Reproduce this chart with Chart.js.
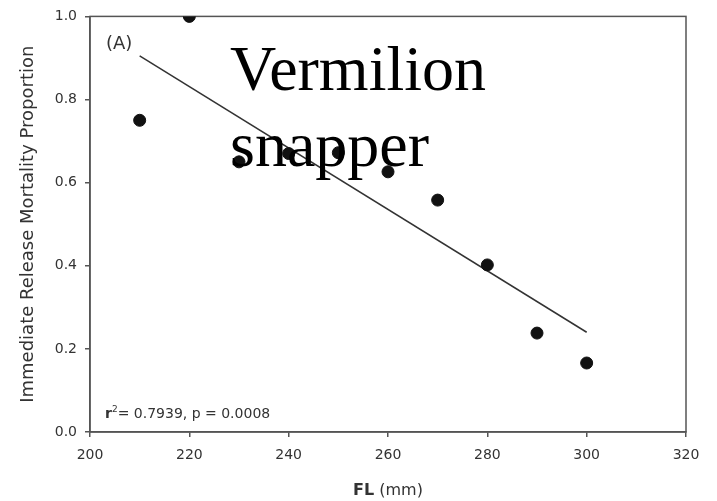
<!DOCTYPE html>
<html>
<head>
<meta charset="utf-8">
<script src="https://cdn.jsdelivr.net/npm/chart.js@4/dist/chart.umd.min.js"></script>
<style>
  html, body { margin: 0; padding: 0; background: #fff; }
  #wrap { position: relative; width: 717px; height: 501px; }
</style>
</head>
<body>
<div id="wrap"><canvas id="c" width="717" height="501"></canvas></div>
<script>
// ---- data ----
const lengthsFL = [210, 220, 230, 240, 250, 260, 270, 280, 290, 300];
const mortality = [0.75, 1.0, 0.65, 0.67, 0.672, 0.626, 0.558, 0.402, 0.238, 0.166];
const fitX = [210, 300];
const fitY = [0.905, 0.24];
const xTickValues = [200, 220, 240, 260, 280, 300, 320];
const yTickValues = [0.0, 0.2, 0.4, 0.6, 0.8, 1.0];
const panelLabel = '(A)';
const speciesLines = ['Vermilion', 'snapper'];
const statsText = '= 0.7939, p = 0.0008';
const yTitle = 'Immediate Release Mortality Proportion';
const xTitleBold = 'FL';
const xTitleRest = ' (mm)';

const pointsData = lengthsFL.map((x, i) => ({ x: x, y: mortality[i] }));
const fitData = fitX.map((x, i) => ({ x: x, y: fitY[i] }));

const AXIS_COLOR = '#555';
const TEXT_COLOR = '#333';

const annotate = {
  id: 'annotate',
  beforeDatasetsDraw(chart) {
    const { ctx, chartArea: a } = chart;
    ctx.save();
    ctx.strokeStyle = AXIS_COLOR;
    ctx.lineWidth = 1.5;
    ctx.strokeRect(a.left, a.top, a.right - a.left, a.bottom - a.top);
    ctx.restore();
  },
  afterDraw(chart) {
    const { ctx, chartArea: a } = chart;
    ctx.save();
    // panel label
    ctx.fillStyle = TEXT_COLOR;
    ctx.font = '18px "DejaVu Sans"';
    ctx.textBaseline = 'middle';
    ctx.textAlign = 'left';
    ctx.fillText(panelLabel, a.left + 16, a.top + 28);
    // stats
    ctx.textBaseline = 'alphabetic';
    let x = a.left + 15;
    const yb = a.bottom - 14;
    ctx.font = 'bold 14px "DejaVu Sans"';
    ctx.fillText('r', x, yb);
    x += ctx.measureText('r').width;
    ctx.font = '9px "DejaVu Sans"';
    ctx.fillText('2', x, yb - 6);
    x += ctx.measureText('2').width;
    ctx.font = '14px "DejaVu Sans"';
    ctx.fillText(statsText, x, yb);
    // x title with bold part
    const cx = (a.left + a.right) / 2;
    ctx.font = 'bold 16px "DejaVu Sans"';
    const w1 = ctx.measureText(xTitleBold).width;
    ctx.font = '16px "DejaVu Sans"';
    const w2 = ctx.measureText(xTitleRest).width;
    let sx = cx - (w1 + w2) / 2;
    ctx.textBaseline = 'middle';
    ctx.font = 'bold 16px "DejaVu Sans"';
    ctx.fillText(xTitleBold, sx, 491);
    ctx.font = '16px "DejaVu Sans"';
    ctx.fillText(xTitleRest, sx + w1, 491);
    // species overlay
    ctx.fillStyle = '#000';
    ctx.textBaseline = 'alphabetic';
    ctx.font = '64px "Liberation Serif"';
    ctx.fillText(speciesLines[0], 230, 90);
    ctx.fillText(speciesLines[1], 230, 166);
    ctx.restore();
  }
};

new Chart(document.getElementById('c'), {
  type: 'scatter',
  data: {
    datasets: [
      {
        label: 'Observed',
        data: pointsData,
        backgroundColor: '#111',
        borderColor: '#111',
        pointRadius: 6,
        pointHoverRadius: 6,
        order: 1
      },
      {
        label: 'Fit',
        data: fitData,
        showLine: true,
        borderColor: '#333',
        borderWidth: 1.5,
        pointRadius: 0,
        fill: false,
        order: 2
      }
    ]
  },
  plugins: [annotate],
  options: {
    responsive: false,
    animation: false,
    events: [],
    layout: { padding: { left: 0, top: 16, right: 31, bottom: 0 } },
    plugins: { legend: { display: false }, tooltip: { enabled: false } },
    scales: {
      x: {
        type: 'linear',
        min: 200, max: 320,
        afterBuildTicks: (s) => { s.ticks = xTickValues.map(v => ({ value: v })); },
        afterFit: (s) => { s.height = 69; },
        grid: { drawOnChartArea: false, drawTicks: true, tickLength: 5, color: AXIS_COLOR, lineWidth: 1.5 },
        border: { display: true, color: AXIS_COLOR, width: 1.5 },
        ticks: { color: TEXT_COLOR, font: { family: 'DejaVu Sans', size: 14 }, padding: 10, maxRotation: 0 },
        title: { display: false }
      },
      y: {
        type: 'linear',
        min: 0, max: 1,
        afterBuildTicks: (s) => { s.ticks = yTickValues.map(v => ({ value: v })); },
        afterFit: (s) => { s.width = 90; },
        grid: { drawOnChartArea: false, drawTicks: true, tickLength: 5, color: AXIS_COLOR, lineWidth: 1.5 },
        border: { display: true, color: AXIS_COLOR, width: 1.5 },
        ticks: { color: TEXT_COLOR, font: { family: 'DejaVu Sans', size: 14 }, padding: 8, callback: (v) => v.toFixed(1) },
        title: { display: true, text: yTitle, color: TEXT_COLOR, font: { family: 'DejaVu Sans', size: 18 }, padding: { top: 18, bottom: 0 } }
      }
    }
  }
});
</script>
</body>
</html>
